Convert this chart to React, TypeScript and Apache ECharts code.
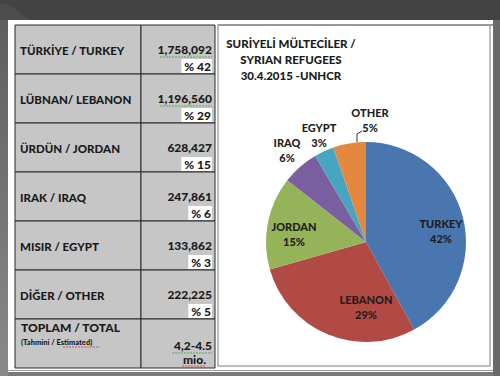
import React, { useEffect, useRef } from "react";
import * as echarts from "echarts";

// ---- data ----
const tableLabels = [
  "TÜRKİYE / TURKEY",
  "LÜBNAN/ LEBANON",
  "ÜRDÜN / JORDAN",
  "IRAK / IRAQ",
  "MISIR / EGYPT",
  "DİĞER / OTHER",
];
const pieNames = ["TURKEY", "LEBANON", "JORDAN", "IRAQ", "EGYPT", "OTHER"];
const refugeeCounts = [1758092, 1196560, 628427, 247861, 133862, 222225];
const percentShares = [42, 29, 15, 6, 3, 5];
const totalLabel = "TOPLAM / TOTAL";
const totalSub = "(Tahmini / Estimated)";
const totalValue = ["4,2-4.5", "mio."];
const titleLines = ["SURİYELİ MÜLTECİLER /", "SYRIAN REFUGEES", "30.4.2015 -UNHCR"];
const sliceColors = ["#4A76B0", "#B14944", "#95B45A", "#7A5FA0", "#48A5C2", "#E5883F"];

// ---- layout (pixels) ----
const FONT = "Lato, 'Open Sans', sans-serif";
const W = 900;
const TX = 15, TW1 = 126, TW2 = 74, TY = 25, RH = 49;
const CX = 366, CY = 242, R = 100;
const LABEL_OFFSETS: [number, number][] = [
  [75, -11], [0, 65], [-72, -8], [-79, -92], [-47, -107], [4, -122],
];

const fmt = (n: number) => n.toLocaleString("en-US");

export default function App() {
  const ref = useRef<HTMLDivElement>(null);
  useEffect(() => {
    document.body.style.margin = "0";
    const chart = echarts.init(ref.current!, undefined, { renderer: "svg" });
    const g: any[] = [];
    // backgrounds
    g.push({ type: "rect", shape: { x: 0, y: 0, width: 500, height: 376 }, style: { fill: "#434343" }, z: -10 });
    g.push({
      type: "rect", shape: { x: 0, y: 20, width: 8, height: 356 },
      style: { fill: new echarts.graphic.LinearGradient(0, 0, 0, 1, [{ offset: 0, color: "#5e5e5e" }, { offset: 1, color: "#8a8a8a" }]) }, z: -9,
    });
    g.push({ type: "rect", shape: { x: 493, y: 20, width: 7, height: 356 }, style: { fill: "#6a6a6a" }, z: -9 });
    g.push({ type: "polygon", shape: { points: [[0, 4], [8, 4], [30, 20], [0, 20]] }, style: { fill: "#4d4d4d" }, z: -9 });
    g.push({ type: "rect", shape: { x: 8, y: 372, width: 485, height: 4 }, style: { fill: "#7a7a7a" }, z: -9 });
    g.push({ type: "rect", shape: { x: 8, y: 20, width: 485, height: 352 }, style: { fill: "#ffffff" }, z: -8 });
    g.push({ type: "rect", shape: { x: 8, y: 370, width: 485, height: 1 }, style: { fill: "#9a9a9a" }, z: -7 });
    // chart box
    g.push({ type: "rect", shape: { x: 218, y: 25, width: 272, height: 341 }, style: { fill: "#ffffff", stroke: "#a8a8a8", lineWidth: 1.5 }, z: -6 });
    g.push({ type: "line", shape: { x1: 218, y1: 25, x2: 493, y2: 25 }, style: { stroke: "#9a9a9a", lineWidth: 2 }, z: -6 });

    // table rows
    const rows = tableLabels.length + 1;
    for (let i = 0; i < rows; i++) {
      const y = TY + i * RH;
      g.push({ type: "rect", shape: { x: TX, y, width: TW1, height: RH }, style: { fill: "#c6c6c6", stroke: "#2b2b2b", lineWidth: 1 }, z: -5 });
      g.push({ type: "rect", shape: { x: TX + TW1, y, width: TW2, height: RH }, style: { fill: "#c6c6c6", stroke: "#2b2b2b", lineWidth: 1 }, z: -5 });
    }
    const vx = TX + TW1 + TW2 - 3;
    tableLabels.forEach((lab, i) => {
      const y = TY + i * RH;
      g.push({ type: "text", x: 20, y: y + 25, style: { text: lab, font: `${W} 11.5px ${FONT}`, fill: "#1b1b1b", verticalAlign: "middle" } });
      g.push({ type: "text", x: vx, y: y + 24, style: { text: fmt(refugeeCounts[i]), font: `${W} 12px ${FONT}`, fill: "#1b1b1b", align: "right", verticalAlign: "middle" } });
      g.push({
        type: "text", x: vx, y: y + 41,
        style: { text: "% " + percentShares[i], font: `${W} 12px ${FONT}`, fill: "#1b1b1b", align: "right", verticalAlign: "middle", backgroundColor: "#ffffff", padding: [1, 1, 1, 3] },
      });
      if (i < 2) {
        g.push({ type: "line", shape: { x1: vx - 52, y1: y + 32, x2: vx, y2: y + 32 }, style: { stroke: "#4caf50", lineWidth: 1, lineDash: [2, 1] } });
      }
    });
    const ty = TY + 6 * RH;
    g.push({ type: "text", x: 21, y: ty + 8, style: { text: totalLabel, font: `${W} 12px ${FONT}`, fill: "#1b1b1b", verticalAlign: "middle" } });
    g.push({ type: "text", x: 21, y: ty + 23, style: { text: totalSub, font: `${W} 7.5px ${FONT}`, fill: "#1b1b1b", verticalAlign: "middle" } });
    g.push({ type: "line", shape: { x1: 63, y1: ty + 28, x2: 100, y2: ty + 28 }, style: { stroke: "#d9534f", lineWidth: 1, lineDash: [2, 1] } });
    g.push({ type: "text", x: vx, y: ty + 26, style: { text: totalValue[0], font: `${W} 12px ${FONT}`, fill: "#1b1b1b", align: "right", verticalAlign: "middle" } });
    g.push({ type: "line", shape: { x1: vx - 40, y1: ty + 34, x2: vx, y2: ty + 34 }, style: { stroke: "#4caf50", lineWidth: 1, lineDash: [2, 1] } });
    g.push({ type: "text", x: vx - 6, y: ty + 40, style: { text: totalValue[1], font: `${W} 12px ${FONT}`, fill: "#1b1b1b", align: "right", verticalAlign: "middle" } });
    g.push({ type: "line", shape: { x1: vx - 30, y1: ty + 47, x2: vx - 6, y2: ty + 47 }, style: { stroke: "#d9534f", lineWidth: 1, lineDash: [2, 1] } });

    // title
    titleLines.forEach((t, i) => {
      g.push({ type: "text", x: 291, y: 43 + i * 16, style: { text: t, font: `${W} 11.5px ${FONT}`, fill: "#1b1b1b", align: "center", verticalAlign: "middle" } });
    });

    chart.setOption({
      animation: false,
      graphic: { elements: g },
      series: [
        {
          type: "pie",
          center: [CX, CY],
          radius: R,
          startAngle: 90,
          clockwise: true,
          avoidLabelOverlap: false,
          color: sliceColors,
          itemStyle: { borderWidth: 0 },
          label: {
            show: true,
            position: "outside",
            formatter: (p: any) => `${p.name}\n${Math.round(p.percent)}%`,
            fontFamily: FONT,
            fontWeight: W,
            fontSize: 11,
            lineHeight: 15,
            color: "#1f1f1f",
            align: "center",
          },
          labelLine: { show: false },
          labelLayout: (p: any) => {
            const o = LABEL_OFFSETS[p.dataIndex];
            const res: any = { x: CX + o[0], y: CY + o[1], align: "center", verticalAlign: "middle" };
            if (p.dataIndex === 5) {
              res.labelLinePoints = [[357, 142], [357, 134], [362, 131]];
            }
            return res;
          },
          data: pieNames.map((n, i) => ({
            name: n,
            value: refugeeCounts[i],
            labelLine: i === 5 ? { show: true, lineStyle: { color: "#333", width: 1 } } : undefined,
          })),
        },
      ],
    });
    return () => chart.dispose();
  }, []);
  return <div ref={ref} style={{ position: "absolute", left: 0, top: 0, width: 500, height: 376 }} />;
}
